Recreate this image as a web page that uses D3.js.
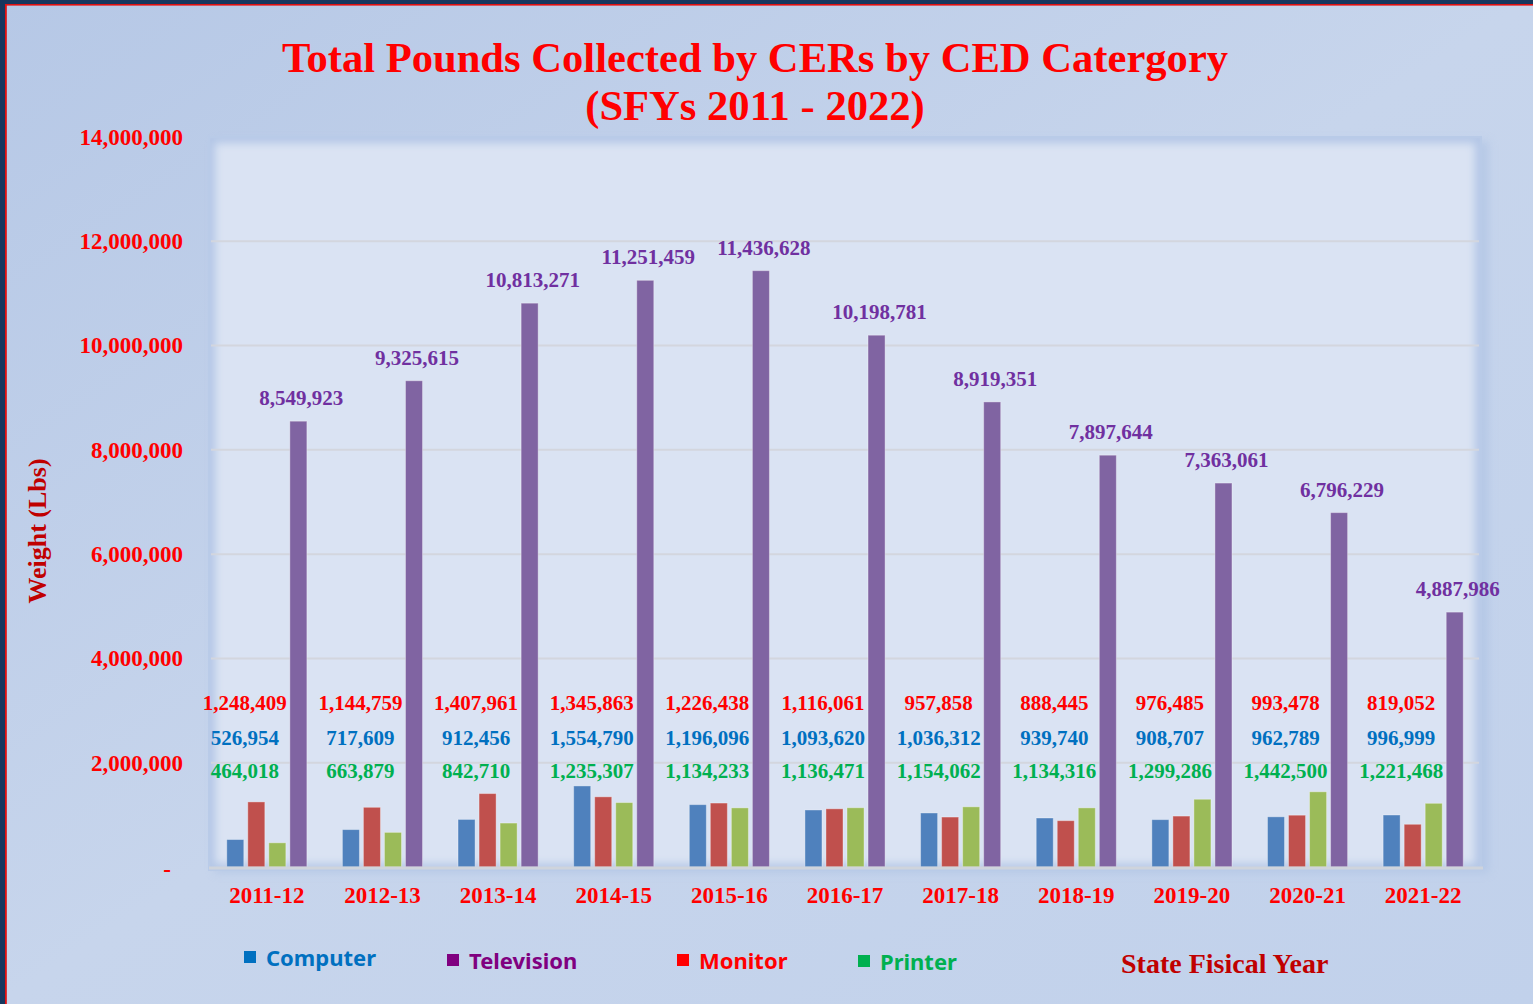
<!DOCTYPE html>
<html>
<head>
<meta charset="utf-8">
<script src="https://cdn.jsdelivr.net/npm/d3@7"></script>
<style>
  html, body { margin: 0; padding: 0; background: #c3d2ea; }
  svg { display: block; }
</style>
</head>
<body>
<div id="chart"></div>
<script>
// Data
const categories = ["2011-12", "2012-13", "2013-14", "2014-15", "2015-16", "2016-17",
  "2017-18", "2018-19", "2019-20", "2020-21", "2021-22"];
const computer = [526954, 717609, 912456, 1554790, 1196096, 1093620, 1036312, 939740, 908707, 962789, 996999];
const monitor = [1248409, 1144759, 1407961, 1345863, 1226438, 1116061, 957858, 888445, 976485, 993478, 819052];
const printer = [464018, 663879, 842710, 1235307, 1134233, 1136471, 1154062, 1134316, 1299286, 1442500, 1221468];
const television = [8549923, 9325615, 10813271, 11251459, 11436628, 10198781, 8919351, 7897644, 7363061, 6796229, 4887986];
const yTicks = [0, 2000000, 4000000, 6000000, 8000000, 10000000, 12000000, 14000000];
const legendNames = ["Computer", "Television", "Monitor", "Printer"];

// Series order inside each group (as drawn) + colours
const keys = ["computer", "monitor", "printer", "television"];
const series = { computer, monitor, printer, television };
const barColor = { computer: "#4f81bd", monitor: "#c0504d", printer: "#9bbb59", television: "#8064a2" };
const labelColor = { computer: "#0070c0", monitor: "#ff0000", printer: "#00b050", television: "#7030a0" };
const legendColor = { Computer: "#0070c0", Television: "#800080", Monitor: "#ff0000", Printer: "#00b050" };

const W = 1533, H = 1004;
const plot = { left: 209, top: 137, right: 1481, bottom: 867 };

const rows = categories.map((c, i) => {
  const r = { category: c };
  keys.forEach(k => r[k] = series[k][i]);
  return r;
});

const svg = d3.select("#chart").append("svg")
  .attr("width", W)
  .attr("height", H);

const defs = svg.append("defs");
const bg = defs.append("linearGradient").attr("id", "bg")
  .attr("x1", 0).attr("y1", 0).attr("x2", 1).attr("y2", 1);
bg.append("stop").attr("offset", "0%").attr("stop-color", "#b6c8e6");
bg.append("stop").attr("offset", "50%").attr("stop-color", "#c7d5ec");
bg.append("stop").attr("offset", "100%").attr("stop-color", "#c1d1eb");
defs.append("filter").attr("id", "blur")
  .attr("x", -0.1).attr("y", -0.1).attr("width", 1.2).attr("height", 1.2)
  .append("feGaussianBlur").attr("stdDeviation", 4);
defs.append("clipPath").attr("id", "plotclip")
  .append("rect")
  .attr("x", plot.left).attr("y", plot.top)
  .attr("width", plot.right - plot.left).attr("height", plot.bottom - plot.top + 3);

// Background + frame
svg.append("rect").attr("width", W).attr("height", H).attr("fill", "url(#bg)");
svg.append("rect").attr("x", 0).attr("y", 0).attr("width", W).attr("height", 4).attr("fill", "#17375e");
svg.append("rect").attr("x", 0).attr("y", 0).attr("width", 5).attr("height", H).attr("fill", "#17375e");
svg.append("rect").attr("x", 5).attr("y", 4).attr("width", W).attr("height", 1.6).attr("fill", "#e01010");
svg.append("rect").attr("x", 5).attr("y", 4).attr("width", 1.8).attr("height", H).attr("fill", "#e01010");

// Plot area with soft shadow
svg.append("rect")
  .attr("x", plot.left + 5).attr("y", plot.top + 4)
  .attr("width", plot.right - plot.left + 3).attr("height", plot.bottom - plot.top + 2)
  .attr("fill", "#a9bfe2").attr("opacity", 0.5).attr("filter", "url(#blur)");
svg.append("rect")
  .attr("x", plot.left).attr("y", plot.top)
  .attr("width", plot.right - plot.left).attr("height", plot.bottom - plot.top + 3)
  .attr("fill", "#dae3f3");
svg.append("g").attr("clip-path", "url(#plotclip)")
  .append("rect")
  .attr("x", plot.left).attr("y", plot.top)
  .attr("width", plot.right - plot.left).attr("height", plot.bottom - plot.top + 3)
  .attr("fill", "none").attr("stroke", "#b3c6e6").attr("stroke-width", 12)
  .attr("filter", "url(#blur)");
svg.append("rect")
  .attr("x", plot.left).attr("y", plot.top)
  .attr("width", plot.right - plot.left).attr("height", plot.bottom - plot.top + 3)
  .attr("fill", "none").attr("stroke", "#b9cbe8").attr("stroke-width", 2);

// Scales
const x0 = d3.scaleBand()
  .domain(categories)
  .range([plot.left, plot.right])
  .paddingInner(0.238)
  .paddingOuter(0.119);
const x1 = d3.scaleBand()
  .domain(keys)
  .range([0, x0.bandwidth()])
  .padding(0.19);
const y = d3.scaleLinear()
  .domain([0, 14000000])
  .range([plot.bottom, plot.top]);

// Gridlines
svg.append("g")
  .selectAll("line")
  .data(yTicks.filter(d => d > 0 && d < 14000000))
  .enter()
  .append("line")
  .attr("x1", plot.left + 2).attr("x2", plot.right - 2)
  .attr("y1", d => y(d)).attr("y2", d => y(d))
  .attr("stroke", "#d3d6de").attr("stroke-width", 2);

// Bars
const groups = svg.append("g")
  .selectAll("g")
  .data(rows)
  .enter()
  .append("g")
  .attr("transform", d => `translate(${x0(d.category)},0)`);

groups.selectAll("rect")
  .data(d => keys.map(k => ({ key: k, value: d[k] })))
  .enter()
  .append("rect")
  .attr("x", d => x1(d.key))
  .attr("y", d => y(d.value))
  .attr("width", x1.bandwidth())
  .attr("height", d => y(0) - y(d.value))
  .attr("fill", d => barColor[d.key])
  .attr("stroke", "rgba(255,255,255,0.35)")
  .attr("stroke-width", 1);

// Baseline
svg.append("line")
  .attr("x1", plot.left).attr("x2", plot.right + 2)
  .attr("y1", y(0) + 1).attr("y2", y(0) + 1)
  .attr("stroke", "#cfd4dc").attr("stroke-width", 3);

// Data labels
const fmt = d3.format(",");
const labelFont = "'Liberation Serif', 'Times New Roman', serif";

// television label above its bar
groups.append("text")
  .attr("x", x1("television") + x1.bandwidth() / 2 + 3)
  .attr("y", d => y(d.television) - 23)
  .attr("text-anchor", "middle")
  .attr("dominant-baseline", "central")
  .style("font-family", labelFont)
  .style("font-weight", "bold")
  .style("font-size", "21px")
  .attr("fill", labelColor.television)
  .text(d => fmt(d.television));

// small series labels stacked to the left of the TV bar
const stackLevel = { monitor: 3150000, computer: 2470000, printer: 1850000 };
["monitor", "computer", "printer"].forEach(k => {
  groups.append("text")
    .attr("x", x0.bandwidth() / 2 - 22)
    .attr("y", y(stackLevel[k]))
    .attr("text-anchor", "middle")
    .attr("dominant-baseline", "central")
    .style("font-family", labelFont)
    .style("font-weight", "bold")
    .style("font-size", "21px")
    .attr("fill", labelColor[k])
    .text(d => fmt(d[k]));
});

// Y axis
const yAxis = svg.append("g")
  .attr("transform", `translate(${plot.left},0)`)
  .call(d3.axisLeft(y)
    .tickValues(yTicks)
    .tickSize(0)
    .tickPadding(26)
    .tickFormat(d => d === 0 ? "-" : fmt(d)));
yAxis.select(".domain").remove();
yAxis.selectAll("text")
  .style("font-family", labelFont)
  .style("font-weight", "bold")
  .style("font-size", "23px")
  .attr("fill", "#ff0000");
yAxis.selectAll(".tick").filter(d => d === 0).select("text")
  .attr("x", -38).attr("dy", "0.4em");

// X axis
const xAxis = svg.append("g")
  .attr("transform", `translate(0,${plot.bottom})`)
  .call(d3.axisBottom(x0).tickSize(0).tickPadding(20));
xAxis.select(".domain").remove();
xAxis.selectAll("text")
  .style("font-family", labelFont)
  .style("font-weight", "bold")
  .style("font-size", "23px")
  .attr("fill", "#ff0000");

// Title
const title = svg.append("text")
  .attr("text-anchor", "middle")
  .style("font-family", labelFont)
  .style("font-weight", "bold")
  .style("font-size", "42.6px")
  .attr("fill", "#ff0000");
title.append("tspan").attr("x", 755).attr("y", 72)
  .text("Total Pounds Collected by CERs by CED Catergory");
title.append("tspan").attr("x", 755).attr("y", 120)
  .text("(SFYs 2011 - 2022)");

// Axis titles
svg.append("text")
  .attr("transform", "translate(37,531) rotate(-90)")
  .attr("text-anchor", "middle")
  .attr("dominant-baseline", "central")
  .style("font-family", labelFont)
  .style("font-weight", "bold")
  .style("font-size", "26px")
  .attr("fill", "#c00000")
  .text("Weight (Lbs)");

svg.append("text")
  .attr("x", 1121).attr("y", 973)
  .style("font-family", labelFont)
  .style("font-weight", "bold")
  .style("font-size", "28px")
  .attr("fill", "#c00000")
  .text("State Fisical Year");

// Legend
const legendX = [244, 447, 677, 858];
const legendY = [957, 960, 960, 961];
const legend = svg.append("g")
  .selectAll("g")
  .data(legendNames)
  .enter()
  .append("g")
  .attr("transform", (d, i) => `translate(${legendX[i]},${legendY[i]})`);
legend.append("rect")
  .attr("x", 0).attr("y", -6)
  .attr("width", 12).attr("height", 12)
  .attr("fill", d => legendColor[d]);
legend.append("text")
  .attr("x", 22).attr("y", 0)
  .attr("dominant-baseline", "central")
  .style("font-family", "'Noto Sans', 'DejaVu Sans', sans-serif")
  .style("font-weight", "bold")
  .style("font-size", "22px")
  .attr("fill", d => legendColor[d])
  .text(d => d);
</script>
</body>
</html>
